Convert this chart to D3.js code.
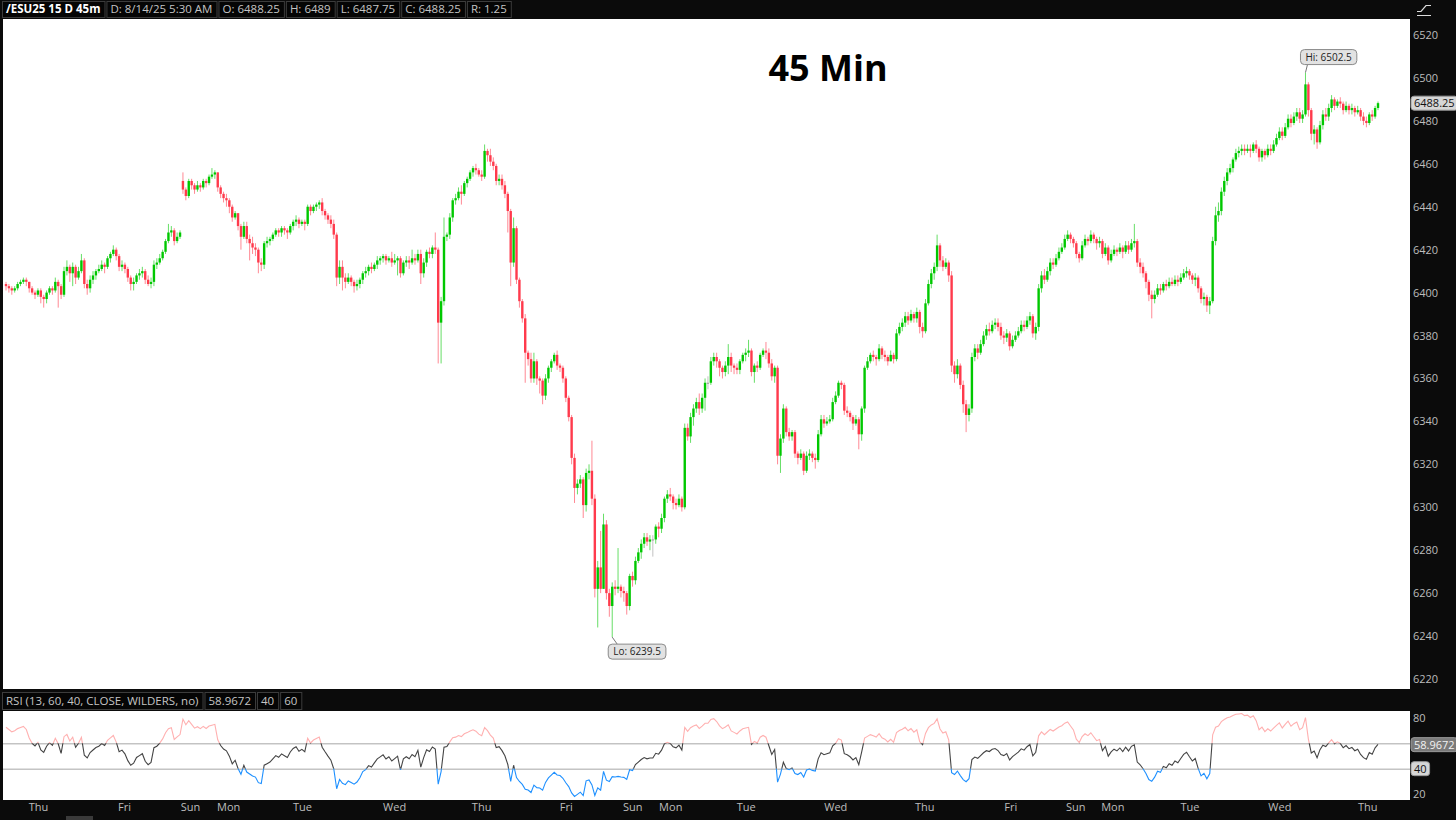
<!DOCTYPE html>
<html>
<head>
<meta charset="utf-8">
<script src="https://cdn.jsdelivr.net/npm/d3@7"></script>
<style>
  body { margin: 0; background: #0b0b0b; overflow: hidden; }
  svg { display: block; font-family: "Open Sans", "Noto Sans", sans-serif; }
</style>
</head>
<body>
<script>
// ---- /ESU25 45m bars ----
var closes = [
  6403,6402,6401,6402,6404,6405,6406,6405,6402,6400, 6399,6401,6398,6397,6400,6402,6401,6405,6403,6399,
  6410,6412,6409,6412,6407,6410,6415,6404,6402,6406, 6408,6410,6411,6413,6412,6416,6418,6420,6417,6412,
  6413,6411,6407,6404,6405,6408,6409,6410,6406,6404, 6405,6413,6414,6416,6419,6424,6428,6429,6424,6426,
  6428,6448,6445,6452,6450,6448,6450,6449,6452,6451, 6454,6455,6456,6449,6446,6444,6443,6440,6435,6437,
  6431,6426,6431,6425,6423,6421,6420,6414,6413,6423, 6424,6425,6427,6429,6428,6430,6429,6428,6431,6433,
  6434,6432,6433,6432,6440,6438,6440,6441,6442,6438, 6436,6434,6432,6427,6407,6412,6407,6405,6407,6405,
  6403,6404,6406,6409,6410,6412,6411,6413,6415,6416, 6417,6415,6416,6414,6415,6416,6409,6414,6415,6414,
  6416,6415,6418,6409,6414,6419,6418,6421,6420,6386, 6396,6426,6427,6435,6443,6444,6447,6446,6451,6453,
  6456,6458,6457,6455,6454,6466,6464,6461,6459,6452, 6453,6450,6446,6438,6414,6430,6406,6396,6388,6372,
  6369,6360,6368,6360,6359,6352,6360,6365,6368,6371, 6366,6365,6360,6351,6342,6323,6309,6311,6313,6301,
  6316,6317,6304,6262,6272,6262,6292,6260,6254,6263, 6262,6263,6261,6260,6254,6268,6266,6275,6279,6283,
  6286,6284,6285,6285,6291,6290,6295,6304,6306,6305, 6302,6301,6304,6300,6337,6333,6342,6346,6349,6346,
  6351,6358,6358,6368,6370,6368,6365,6363,6366,6370, 6366,6365,6364,6368,6371,6372,6373,6363,6366,6365,
  6371,6373,6372,6367,6361,6365,6324,6332,6346,6335, 6333,6335,6325,6323,6325,6317,6324,6325,6323,6322,
  6334,6341,6339,6340,6341,6349,6352,6358,6357,6345, 6344,6342,6339,6341,6334,6346,6365,6368,6371,6370,
  6369,6374,6371,6370,6368,6371,6369,6381,6384,6386, 6389,6387,6390,6388,6391,6384,6382,6395,6404,6409,
  6412,6422,6415,6412,6414,6408,6366,6362,6366,6357, 6348,6343,6346,6370,6374,6372,6376,6380,6383,6382,
  6385,6386,6384,6380,6379,6381,6375,6378,6380,6382, 6385,6384,6387,6389,6381,6384,6402,6408,6406,6410,
  6414,6413,6416,6419,6421,6425,6427,6425,6423,6418, 6416,6422,6425,6424,6427,6425,6423,6424,6418,6421,
  6415,6418,6420,6419,6421,6419,6422,6420,6423,6424, 6414,6412,6409,6405,6399,6397,6399,6402,6401,6404,
  6403,6405,6404,6406,6405,6407,6409,6410,6408,6406, 6407,6402,6397,6398,6394,6396,6424,6436,6438,6447,
  6452,6456,6458,6462,6465,6466,6467,6466,6467,6466, 6469,6467,6463,6466,6464,6467,6466,6469,6472,6475,
  6473,6477,6481,6479,6482,6484,6481,6483,6497,6485, 6474,6476,6470,6478,6483,6482,6486,6490,6487,6489,
  6488,6485,6487,6485,6486,6484,6485,6482,6480,6479, 6483,6482,6486,6488.25
];
var highs = [
  6405,6404,6403,6403,6405,6406,6407,6407,6405,6403, 6401,6402,6402,6399,6401,6403,6403,6407,6406,6404,
  6412,6415,6413,6414,6413,6412,6418,6416,6406,6408, 6410,6411,6413,6415,6414,6417,6419,6422,6421,6418,
  6415,6414,6412,6408,6407,6409,6411,6412,6411,6408, 6407,6415,6416,6418,6420,6425,6432,6431,6430,6428,
  6429,6456,6449,6453,6453,6451,6452,6451,6453,6453, 6455,6458,6457,6456,6450,6447,6446,6444,6441,6438,
  6437,6432,6433,6433,6427,6426,6423,6421,6416,6424, 6426,6426,6428,6430,6430,6431,6431,6430,6432,6434,
  6436,6435,6434,6434,6441,6441,6441,6442,6443,6444, 6439,6437,6436,6434,6428,6415,6415,6409,6409,6408,
  6406,6406,6407,6410,6412,6413,6414,6414,6417,6417, 6418,6418,6417,6419,6418,6417,6417,6415,6417,6417,
  6420,6418,6420,6420,6416,6420,6421,6422,6428,6421, 6398,6435,6428,6437,6444,6446,6449,6450,6452,6454,
  6457,6459,6460,6458,6457,6469,6467,6467,6463,6460, 6455,6455,6452,6447,6439,6435,6431,6407,6397,6390,
  6373,6372,6372,6369,6361,6360,6362,6366,6369,6372, 6373,6367,6366,6361,6352,6343,6325,6313,6315,6314,
  6318,6320,6331,6306,6275,6289,6297,6294,6262,6265, 6266,6281,6264,6263,6261,6269,6270,6277,6281,6285,
  6288,6288,6287,6287,6292,6293,6297,6305,6308,6309, 6306,6304,6306,6305,6339,6339,6344,6348,6351,6353,
  6353,6360,6361,6370,6372,6372,6369,6366,6368,6376, 6372,6367,6367,6369,6372,6374,6378,6374,6367,6368,
  6372,6374,6377,6374,6369,6366,6366,6334,6348,6347, 6337,6336,6336,6326,6327,6326,6326,6327,6326,6325,
  6336,6343,6343,6342,6343,6351,6354,6359,6359,6358, 6347,6345,6343,6343,6342,6347,6366,6370,6372,6373,
  6371,6376,6375,6373,6371,6373,6372,6383,6386,6388, 6391,6391,6392,6391,6393,6392,6386,6397,6406,6411,
  6414,6427,6423,6417,6416,6415,6410,6368,6369,6367, 6359,6350,6348,6372,6376,6376,6378,6382,6385,6386,
  6387,6388,6388,6386,6382,6383,6382,6380,6382,6384, 6387,6387,6389,6391,6390,6386,6404,6410,6411,6412,
  6416,6416,6418,6421,6423,6427,6429,6428,6426,6424, 6419,6424,6427,6426,6429,6428,6426,6426,6425,6423,
  6422,6420,6422,6421,6423,6422,6424,6424,6425,6432, 6425,6416,6414,6410,6406,6401,6401,6404,6404,6405,
  6406,6407,6407,6408,6408,6409,6411,6412,6411,6409, 6409,6408,6403,6400,6399,6398,6426,6440,6442,6449,
  6454,6458,6460,6463,6467,6468,6469,6469,6469,6469, 6470,6471,6468,6467,6467,6469,6469,6471,6474,6477,
  6477,6479,6483,6483,6484,6486,6486,6485,6502.5,6498, 6486,6478,6477,6480,6485,6486,6488,6492,6491,6490,
  6491,6489,6489,6488,6488,6487,6487,6486,6484,6482, 6484,6485,6487,6489
];
var lows = [
  6401,6400,6399,6400,6401,6403,6404,6403,6400,6399, 6397,6398,6395,6393,6395,6399,6399,6400,6393,6397,
  6398,6408,6405,6403,6404,6406,6409,6402,6399,6400, 6404,6406,6409,6410,6409,6411,6414,6417,6415,6410,
  6410,6409,6405,6401,6401,6404,6406,6407,6404,6403, 6402,6403,6411,6413,6415,6418,6423,6426,6422,6423,
  6425,6446,6443,6444,6448,6446,6447,6447,6448,6449, 6450,6453,6453,6447,6444,6442,6440,6437,6433,6434,
  6429,6420,6425,6423,6415,6418,6417,6409,6410,6411, 6421,6422,6424,6426,6426,6426,6427,6425,6427,6429,
  6431,6430,6431,6429,6431,6436,6437,6438,6439,6436, 6434,6432,6430,6425,6403,6404,6401,6402,6404,6403,
  6400,6401,6402,6404,6407,6408,6409,6410,6411,6413, 6414,6413,6414,6412,6413,6408,6407,6408,6412,6411,
  6413,6413,6414,6404,6407,6412,6416,6416,6418,6367, 6367,6394,6424,6425,6433,6441,6443,6441,6445,6449,
  6452,6454,6455,6454,6452,6453,6461,6459,6457,6450, 6450,6448,6444,6428,6403,6412,6404,6393,6386,6358,
  6366,6358,6358,6357,6353,6348,6350,6358,6363,6367, 6364,6363,6358,6349,6340,6320,6302,6306,6309,6295,
  6298,6313,6301,6258,6244,6260,6262,6257,6249,6239.5, 6259,6260,6258,6256,6250,6252,6263,6264,6274,6276,
  6281,6282,6280,6277,6283,6286,6288,6293,6302,6303, 6299,6299,6300,6298,6299,6331,6330,6338,6344,6343,
  6344,6345,6355,6357,6366,6365,6361,6360,6361,6362, 6363,6362,6362,6362,6367,6368,6370,6361,6358,6363,
  6364,6370,6369,6365,6359,6358,6320,6316,6330,6333, 6331,6331,6323,6320,6322,6315,6316,6322,6321,6318,
  6321,6333,6337,6338,6339,6340,6348,6351,6355,6343, 6342,6340,6336,6338,6327,6331,6344,6364,6367,6368,
  6366,6368,6369,6368,6366,6368,6367,6368,6380,6382, 6384,6385,6386,6386,6386,6381,6379,6381,6394,6402,
  6406,6410,6412,6410,6411,6405,6363,6358,6360,6355, 6344,6335,6340,6344,6368,6369,6371,6375,6378,6380,
  6381,6383,6382,6378,6376,6377,6373,6374,6377,6379, 6381,6382,6383,6385,6379,6378,6382,6400,6404,6405,
  6408,6411,6412,6415,6418,6420,6424,6423,6421,6416, 6414,6415,6421,6422,6423,6423,6420,6421,6416,6417,
  6413,6414,6417,6417,6418,6416,6418,6418,6419,6421, 6412,6409,6407,6402,6396,6388,6395,6398,6399,6400,
  6401,6402,6403,6403,6403,6404,6406,6407,6406,6404, 6403,6400,6395,6394,6391,6390,6395,6422,6433,6436,
  6445,6450,6455,6456,6461,6463,6464,6464,6465,6463, 6465,6465,6461,6461,6462,6463,6464,6465,6468,6471,
  6471,6472,6476,6477,6478,6480,6479,6479,6482,6482, 6471,6469,6467,6469,6476,6480,6480,6484,6485,6486,
  6486,6483,6484,6483,6483,6482,6483,6480,6478,6477, 6478,6480,6481,6485
];
var firstOpen = 6404;
var gapBars = [61];        // Sunday session after the weekend gap
var gapOpens = [6452];

var priceTicks = [6220, 6240, 6260, 6280, 6300, 6320, 6340, 6360, 6380, 6400, 6420, 6440, 6460, 6480, 6500, 6520];
var lastPrice = 6488.25;

var dayLabels = ["Thu", "Fri", "Sun", "Mon", "Tue", "Wed", "Thu", "Fri", "Sun", "Mon", "Tue", "Wed", "Thu", "Fri", "Sun", "Mon", "Tue", "Wed", "Thu"];
var dayBars = [11, 40.7, 63.4, 76.6, 102, 133.8, 163.8, 193, 215.9, 229, 255, 285.9, 316.6, 346.2, 368.6, 381.4, 408, 439, 469.3];

var rsiLength = 13;
var rsiLevels = [60, 40];
var rsiTicks = [80, 20];
var rsiLast = 58.9672;
var rsiSeedGain = 2.4, rsiSeedLoss = 0.9;   // wilder averages carried in from earlier bars

var headerCells = ["/ESU25 15 D 45m", "D: 8/14/25 5:30 AM", "O: 6488.25", "H: 6489", "L: 6487.75", "C: 6488.25", "R: 1.25"];
var rsiHeaderCells = ["RSI (13, 60, 40, CLOSE, WILDERS, no)", "58.9672", "40", "60"];

// ---- chart ----
var W = 1456, H = 820;
var paneL = 3, paneR = 1410;
var priceTop = 19, priceBot = 689;
var rsiTop = 711, rsiBot = 800;

var up = "#00c800", down = "#ff3a4c", flat = "#9a9a9a";

var svg = d3.select("body").append("svg")
  .attr("width", W)
  .attr("height", H);

svg.append("rect").attr("width", W).attr("height", H).attr("fill", "#0b0b0b");

var x = d3.scaleLinear().domain([0, closes.length - 1]).range([6, 1378]);
var y = d3.scaleLinear().domain([6220, 6520]).range([679, 35]);
var yr = d3.scaleLinear().domain([20, 80]).range([794, 718]);

// build OHLC
var bars = closes.map(function(c, i){
  var g = gapBars.indexOf(i);
  var o = i === 0 ? firstOpen : (g >= 0 ? gapOpens[g] : closes[i - 1]);
  return {i: i, o: o, c: c, h: Math.max(highs[i], o, c), l: Math.min(lows[i], o, c)};
});

// RSI, wilders smoothing
var rsi = [];
var ag = rsiSeedGain, al = rsiSeedLoss;
closes.forEach(function(c, i){
  if (i > 0){
    var d = c - closes[i - 1];
    ag = (ag * (rsiLength - 1) + Math.max(d, 0)) / rsiLength;
    al = (al * (rsiLength - 1) + Math.max(-d, 0)) / rsiLength;
  }
  rsi.push(100 - 100 / (1 + ag / al));
});

// panes
svg.append("rect")
  .attr("x", paneL).attr("y", priceTop)
  .attr("width", paneR - paneL).attr("height", priceBot - priceTop)
  .attr("fill", "#fff");
svg.append("rect")
  .attr("x", paneL).attr("y", rsiTop)
  .attr("width", paneR - paneL).attr("height", rsiBot - rsiTop)
  .attr("fill", "#fff");

// header strips with cells
function cells(list, top, h, boldFirst){
  var g = svg.append("g");
  var cx = 2;
  list.forEach(function(t, k){
    var cell = g.append("g");
    var txt = cell.append("text")
      .attr("x", cx + 4).attr("y", top + h / 2 + 4)
      .attr("font-size", 11.5)
      .attr("font-weight", boldFirst && k === 0 ? 700 : 400)
      .attr("fill", boldFirst && k === 0 ? "#fff" : "#c4c4c4")
      .text(t);
    var w = txt.node().getComputedTextLength() + 8;
    cell.insert("rect", "text")
      .attr("x", cx + 0.5).attr("y", top + 0.5)
      .attr("width", w).attr("height", h)
      .attr("fill", "#050505").attr("stroke", "#3c3c3c");
    cx += w + 2;
  });
}
cells(headerCells, 1, 16, true);
cells(rsiHeaderCells, 692, 17, false);

// top-right chart style icon
svg.append("path")
  .attr("d", "M1417,15.5H1431M1417,11.5L1421,11.5L1426,5.5L1431,5.5")
  .attr("fill", "none").attr("stroke", "#ddd").attr("stroke-width", 1.2);

// title
svg.append("text")
  .attr("x", 828).attr("y", 81)
  .attr("text-anchor", "middle")
  .attr("font-size", 36).attr("font-weight", 700)
  .attr("fill", "#000")
  .text("45 Min");

// candles
function col(d){ return d.c > d.o ? up : (d.c < d.o ? down : flat); }

var candles = svg.append("g").selectAll("g")
  .data(bars)
  .enter()
  .append("g");

candles.append("line")
  .attr("x1", function(d){ return x(d.i); })
  .attr("x2", function(d){ return x(d.i); })
  .attr("y1", function(d){ return y(d.h); })
  .attr("y2", function(d){ return y(d.l); })
  .attr("stroke", col)
  .attr("stroke-opacity", 0.6)
  .attr("stroke-width", 1);

candles.append("rect")
  .attr("x", function(d){ return x(d.i) - 1.2; })
  .attr("width", 2.4)
  .attr("y", function(d){ return y(Math.max(d.o, d.c)); })
  .attr("height", function(d){ return Math.max(1, Math.abs(y(d.o) - y(d.c))); })
  .attr("fill", col);

// hi / lo bubbles
function bubble(text, bx, by, tail){
  var g = svg.append("g");
  g.append("path").attr("d", tail).attr("stroke", "#777").attr("fill", "none");
  var t = g.append("text")
    .attr("x", bx + 5).attr("y", by + 11)
    .attr("font-size", 10).attr("fill", "#222")
    .text(text);
  var w = t.node().getComputedTextLength() + 10;
  g.insert("rect", "text")
    .attr("x", bx).attr("y", by)
    .attr("width", w).attr("height", 15)
    .attr("rx", 4)
    .attr("fill", "#e2e2e2").attr("stroke", "#8a8a8a");
}
var hiI = d3.maxIndex(highs), loI = d3.minIndex(lows);
var hx = x(hiI), hy = y(highs[hiI]);
bubble("Hi: " + highs[hiI], hx - 5, hy - 23, "M" + hx + "," + hy + "L" + (hx + 2) + "," + (hy - 8));
var lx = x(loI), ly = y(lows[loI]);
bubble("Lo: " + lows[loI], lx - 4, ly + 7, "M" + lx + "," + ly + "L" + (lx + 5) + "," + (ly + 7));

// price axis
var yAxis = d3.axisRight(y).tickValues(priceTicks).tickSize(0).tickPadding(0).tickFormat(d3.format("d"));
var ya = svg.append("g").attr("transform", "translate(1413,0)").call(yAxis);
ya.select(".domain").remove();
ya.selectAll("text").attr("fill", "#bdbdbd").attr("font-size", 11).attr("font-family", "'Open Sans', sans-serif");

// value tag on an axis
function tag(text, ty, fill, ink){
  var g = svg.append("g");
  var t = g.append("text")
    .attr("x", 1414).attr("y", ty + 4)
    .attr("font-size", 11).attr("fill", ink)
    .text(text);
  var w = t.node().getComputedTextLength() + 6;
  g.insert("rect", "text")
    .attr("x", 1411).attr("y", ty - 7)
    .attr("width", w).attr("height", 14)
    .attr("rx", 3)
    .attr("fill", fill).attr("stroke", "#999");
}
tag(d3.format(".2f")(lastPrice), y(lastPrice), "#d6d6d6", "#111");

// RSI pane
svg.append("g").selectAll("line")
  .data(rsiLevels)
  .enter()
  .append("line")
  .attr("x1", paneL).attr("x2", paneR)
  .attr("y1", function(d){ return yr(d) + 0.5; })
  .attr("y2", function(d){ return yr(d) + 0.5; })
  .attr("stroke", "#a6a6a6");

var defs = svg.append("defs");
var zones = [
  {id: "zHi", y0: rsiTop, y1: yr(60), color: "#ffb0b0"},
  {id: "zMid", y0: yr(60), y1: yr(40), color: "#444"},
  {id: "zLo", y0: yr(40), y1: rsiBot, color: "#1e90ff"}
];
var rsiLine = d3.line()
  .x(function(d, i){ return x(i); })
  .y(function(d){ return yr(d); });

zones.forEach(function(z){
  defs.append("clipPath").attr("id", z.id)
    .append("rect")
    .attr("x", paneL).attr("y", z.y0)
    .attr("width", paneR - paneL).attr("height", z.y1 - z.y0);
  svg.append("path")
    .datum(rsi)
    .attr("clip-path", "url(#" + z.id + ")")
    .attr("d", rsiLine)
    .attr("fill", "none")
    .attr("stroke", z.color)
    .attr("stroke-width", 1.1);
});

var rAxis = d3.axisRight(yr).tickValues(rsiTicks).tickSize(0).tickPadding(0);
var ra = svg.append("g").attr("transform", "translate(1413,0)").call(rAxis);
ra.select(".domain").remove();
ra.selectAll("text").attr("fill", "#bdbdbd").attr("font-size", 11).attr("font-family", "'Open Sans', sans-serif");

tag(rsiLast, yr(rsiLast), "#7a7a7a", "#f2f2f2");
tag(rsiLevels[1], yr(rsiLevels[1]), "#d6d6d6", "#111");

// day axis
var xAxis = d3.axisBottom(x).tickValues(dayBars).tickSize(0).tickPadding(3)
  .tickFormat(function(d, i){ return dayLabels[i]; });
var xa = svg.append("g").attr("transform", "translate(0," + rsiBot + ")").call(xAxis);
xa.select(".domain").remove();
xa.selectAll("text").attr("fill", "#bdbdbd").attr("font-size", 11).attr("font-family", "'Open Sans', sans-serif");

// scroll thumb at the bottom
svg.append("rect").attr("x", 66).attr("y", 816).attr("width", 27).attr("height", 4).attr("fill", "#3a3a3a");
</script>
</body>
</html>
